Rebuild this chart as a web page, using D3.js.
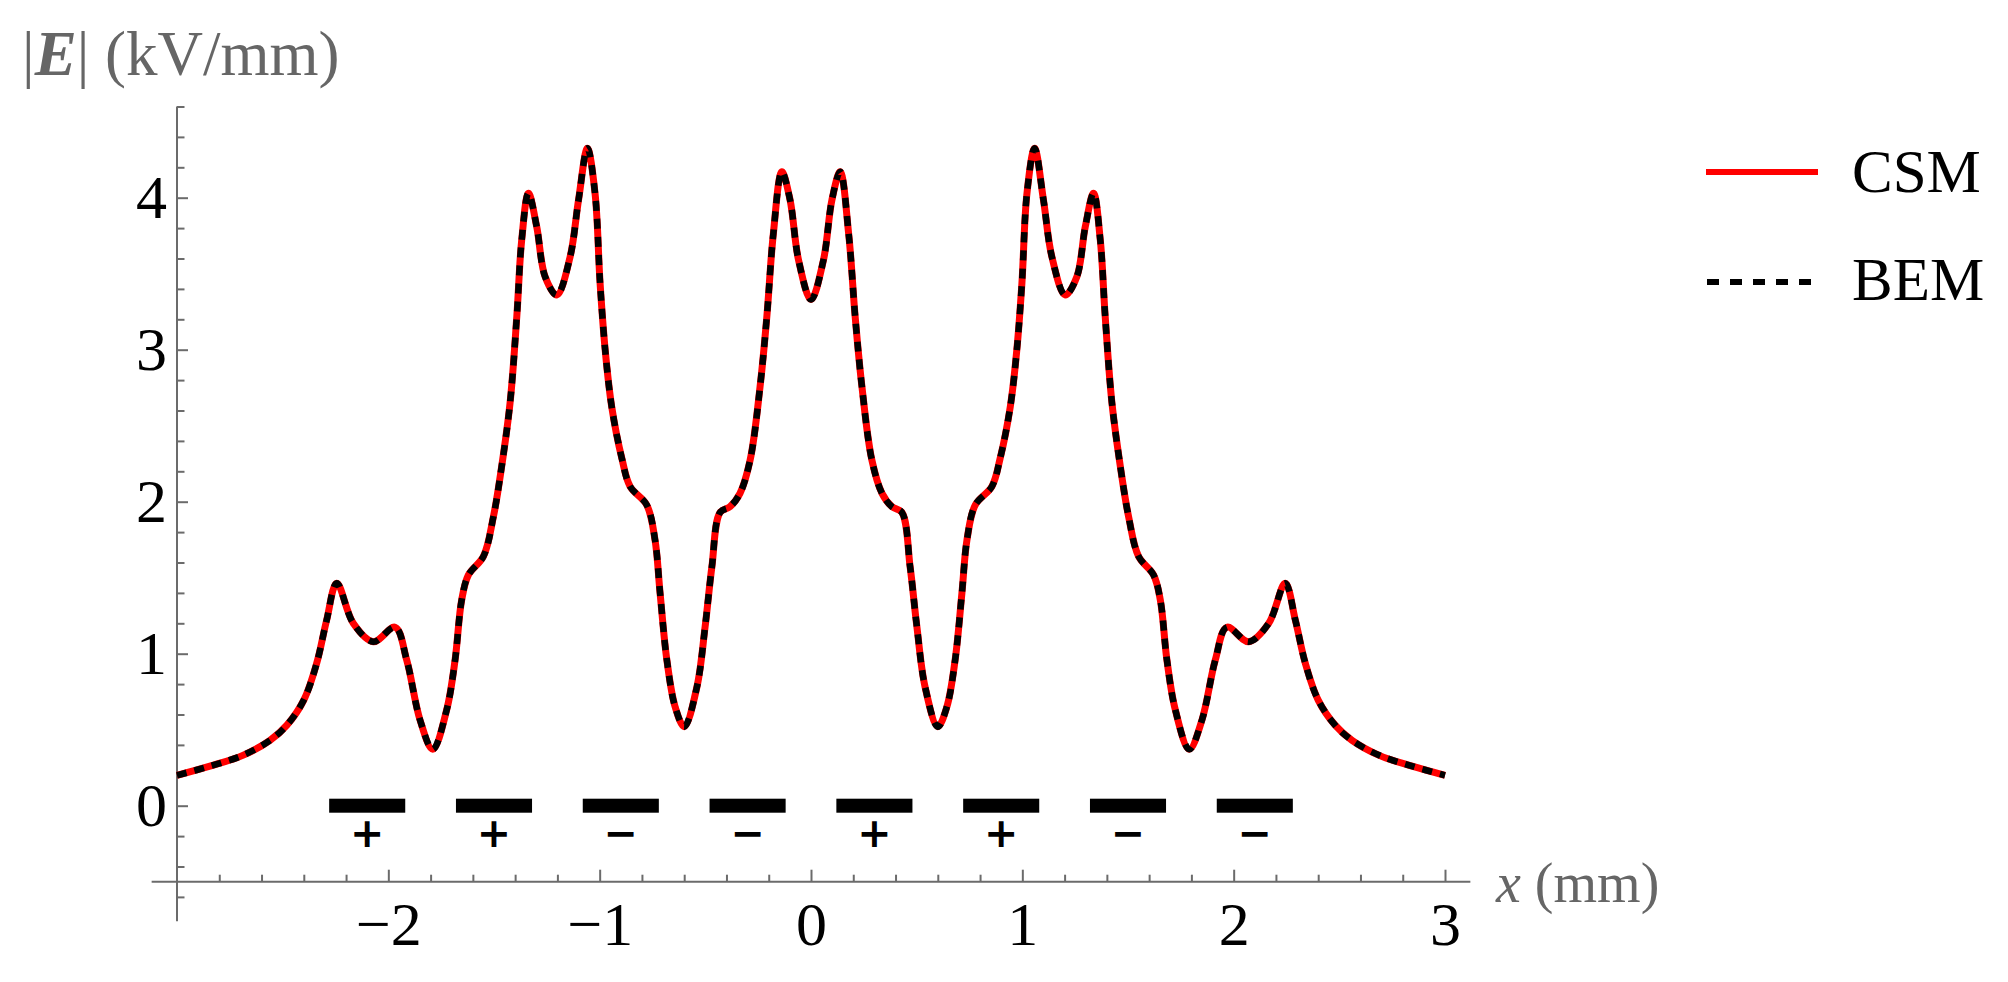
<!DOCTYPE html>
<html>
<head>
<meta charset="utf-8">
<script src="https://cdn.jsdelivr.net/npm/d3@7"></script>
<style>
  body { margin: 0; background: #fff; }
  svg { display: block; }
</style>
</head>
<body>
<svg id="chart" width="2008" height="982"></svg>
<script>
// x positions (mm) of the sampled points
const xs = [-3.00, -2.844, -2.686, -2.56, -2.48, -2.40, -2.339, -2.292, -2.244, -2.166, -2.071, -1.968,
  -1.913, -1.85, -1.79, -1.724, -1.684, -1.653, -1.621, -1.55, -1.503, -1.465, -1.424, -1.392,
  -1.369, -1.337, -1.298, -1.258, -1.203, -1.14, -1.10, -1.058, -1.022, -0.998, -0.974, -0.943, -0.895,
  -0.856, -0.777, -0.738, -0.714, -0.682, -0.643, -0.60, -0.54, -0.501, -0.469, -0.43, -0.383, -0.336,
  -0.288, -0.241, -0.209, -0.178, -0.138, -0.099, -0.059, 0.00,
  0.059, 0.099, 0.138, 0.178, 0.209, 0.241, 0.288, 0.336, 0.383, 0.43, 0.469, 0.501, 0.54, 0.60,
  0.643, 0.682, 0.714, 0.738, 0.777, 0.856, 0.895, 0.943, 0.974, 0.998, 1.022, 1.058, 1.10, 1.14,
  1.203, 1.258, 1.298, 1.337, 1.369, 1.392, 1.424, 1.465, 1.503, 1.55, 1.621, 1.653, 1.684,
  1.724, 1.79, 1.85, 1.913, 1.968, 2.071, 2.166, 2.244, 2.292, 2.339, 2.40, 2.48, 2.56, 2.686, 2.844, 3.00];

// |E| (kV/mm), CSM
const csmE = [0.20, 0.26, 0.333, 0.43, 0.53, 0.695, 0.937, 1.22, 1.463, 1.20, 1.079, 1.174,
  0.958, 0.564, 0.371, 0.63, 0.96, 1.353, 1.518, 1.64, 1.90, 2.22, 2.65, 3.22,
  3.72, 4.03, 3.81, 3.48, 3.36, 3.61, 3.985, 4.325, 4.03, 3.437, 3.0, 2.625, 2.285,
  2.10, 1.978, 1.748, 1.397, 0.958, 0.651, 0.52, 0.78, 1.178, 1.572, 1.93, 1.967, 2.055,
  2.274, 2.757, 3.217, 3.766, 4.17, 3.985, 3.59, 3.33,
  3.59, 3.985, 4.17, 3.766, 3.217, 2.757, 2.274, 2.055, 1.967, 1.93, 1.572, 1.178, 0.78, 0.52,
  0.651, 0.958, 1.397, 1.748, 1.978, 2.10, 2.285, 2.625, 3.0, 3.437, 4.03, 4.325, 3.985, 3.61,
  3.36, 3.48, 3.81, 4.03, 3.72, 3.22, 2.65, 2.22, 1.90, 1.64, 1.518, 1.353, 0.96,
  0.63, 0.371, 0.564, 0.958, 1.174, 1.079, 1.20, 1.463, 1.22, 0.937, 0.695, 0.53, 0.43, 0.333, 0.26, 0.20];

// BEM lies on top of CSM everywhere in the picture
const bemE = csmE.slice();

// electrodes: centres (mm) and polarity
const elecCenters = [-2.1, -1.5, -0.9, -0.3, 0.3, 0.9, 1.5, 2.1];
const elecSigns = ["+", "+", "\u2212", "\u2212", "+", "+", "\u2212", "\u2212"];
const elecHalfWidth = 0.18;

const xMajor = [-2, -1, 0, 1, 2, 3];
const yMajor = [0, 1, 2, 3, 4];

const legendItems = ["CSM", "BEM"];

const axisGray = "#6b6b6b";
const serif = "'Liberation Serif', 'Times New Roman', serif";

const svg = d3.select("#chart");

const x = d3.scaleLinear().domain([-3, 3]).range([177, 1445]);
const y = d3.scaleLinear().domain([0, 4]).range([805.7, 197.7]);

const xMinor = d3.range(-2.8, 3.01, 0.2).map(v => +v.toFixed(1)).filter(v => !Number.isInteger(v));
const yMinor = d3.range(-0.6, 4.61, 0.2).map(v => +v.toFixed(1)).filter(v => !Number.isInteger(v));

// axes cross at (-3, -0.5)
const gx = svg.append("g").attr("transform", `translate(0,${y(-0.5)})`);
const gy = svg.append("g").attr("transform", `translate(${x(-3)},0)`);

gx.call(d3.axisBottom(x).tickValues(xMinor).tickSizeInner(-7).tickSizeOuter(0).tickFormat(""));
gx.call(g => g.select(".domain").remove());
const gxMaj = svg.append("g").attr("transform", `translate(0,${y(-0.5)})`)
  .call(d3.axisBottom(x).tickValues(xMajor).tickSizeInner(-12).tickSizeOuter(0).tickPadding(19).tickFormat(d3.format("d")));
gxMaj.select(".domain").remove();

gy.call(d3.axisLeft(y).tickValues(yMinor).tickSizeInner(-7.5).tickSizeOuter(0).tickFormat(""));
gy.call(g => g.select(".domain").remove());
const gyMaj = svg.append("g").attr("transform", `translate(${x(-3)},0)`)
  .call(d3.axisLeft(y).tickValues(yMajor).tickSizeInner(-11).tickSizeOuter(0).tickPadding(10).tickFormat(d3.format("d")));
gyMaj.select(".domain").remove();

svg.selectAll(".tick line").attr("stroke", axisGray).attr("stroke-width", 2);
svg.selectAll(".tick text")
  .attr("font-family", serif)
  .attr("font-size", 62)
  .attr("fill", "#000");

// axis lines
svg.append("line")
  .attr("x1", x(-3.12)).attr("x2", x(3.12))
  .attr("y1", y(-0.5)).attr("y2", y(-0.5))
  .attr("stroke", axisGray).attr("stroke-width", 2);
svg.append("line")
  .attr("x1", x(-3)).attr("x2", x(-3))
  .attr("y1", y(-0.76)).attr("y2", y(4.6))
  .attr("stroke", axisGray).attr("stroke-width", 2);

// axis labels
const yl = svg.append("text")
  .attr("x", 22).attr("y", 75)
  .attr("font-family", serif).attr("font-size", 63).attr("fill", "#666");
yl.append("tspan").text("|");
yl.append("tspan").text("E").attr("font-weight", "bold").attr("font-style", "italic");
yl.append("tspan").text("| (kV/mm)");

const xl = svg.append("text")
  .attr("x", 1496).attr("y", 902)
  .attr("font-family", serif).attr("font-size", 56).attr("fill", "#666");
xl.append("tspan").text("x").attr("font-style", "italic");
xl.append("tspan").text(" (mm)");

// electrodes
svg.append("g").selectAll("rect")
  .data(elecCenters)
  .join("rect")
  .attr("x", d => x(d - elecHalfWidth))
  .attr("width", d => x(d + elecHalfWidth) - x(d - elecHalfWidth))
  .attr("y", y(0) - 7)
  .attr("height", 14)
  .attr("fill", "#000");

svg.append("g").selectAll("text")
  .data(elecCenters)
  .join("text")
  .attr("x", d => x(d))
  .attr("y", y(0) + 41)
  .attr("text-anchor", "middle")
  .attr("font-family", "'DejaVu Sans', sans-serif")
  .attr("font-weight", "bold")
  .attr("font-size", 41)
  .attr("fill", "#000")
  .text((d, i) => elecSigns[i]);

// curves
const line = d3.line()
  .x(d => x(d[0]))
  .y(d => y(d[1]))
  .curve(d3.curveCatmullRom.alpha(0.5));

svg.append("path")
  .datum(xs.map((v, i) => [v, csmE[i]]))
  .attr("d", line)
  .attr("fill", "none")
  .attr("stroke", "#ff0000")
  .attr("stroke-width", 7);

svg.append("path")
  .datum(xs.map((v, i) => [v, bemE[i]]))
  .attr("d", line)
  .attr("fill", "none")
  .attr("stroke", "#000")
  .attr("stroke-width", 6.5)
  .attr("stroke-dasharray", "10,8");

// legend
const legend = svg.append("g");
legend.append("line")
  .attr("x1", 1706).attr("x2", 1818).attr("y1", 172).attr("y2", 172)
  .attr("stroke", "#ff0000").attr("stroke-width", 6);
legend.append("line")
  .attr("x1", 1707).attr("x2", 1811).attr("y1", 282).attr("y2", 282)
  .attr("stroke", "#000").attr("stroke-width", 6).attr("stroke-dasharray", "12,11");
legend.selectAll("text")
  .data(legendItems)
  .join("text")
  .attr("x", 1852)
  .attr("y", (d, i) => 192 + i * 108)
  .attr("font-family", serif)
  .attr("font-size", 61)
  .attr("fill", "#000")
  .text(d => d);
</script>
</body>
</html>
